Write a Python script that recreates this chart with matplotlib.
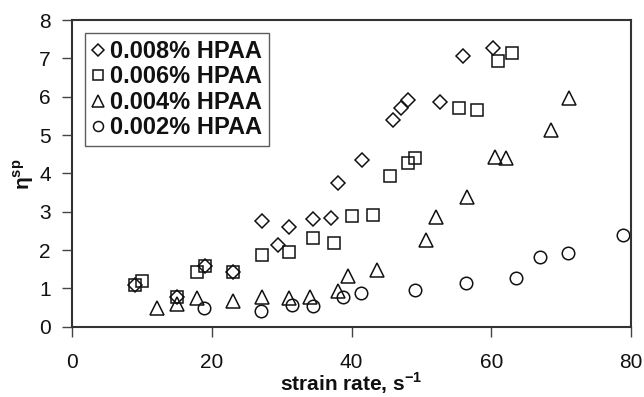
import matplotlib
matplotlib.use("Agg")
import matplotlib.pyplot as plt

plt.rcParams['font.family'] = ['Liberation Sans', 'DejaVu Sans']
plt.rcParams['mathtext.fontset'] = 'custom'
plt.rcParams['mathtext.rm'] = 'Liberation Sans'
plt.rcParams['mathtext.bf'] = 'Liberation Sans:bold'

# 0.008% HPAA
x008 = [9.0, 15.0, 19.0, 23.0, 27.1, 29.5, 31.1, 34.5, 37.0, 38.1, 41.5, 45.9, 47.0, 48.1, 52.6, 56.0, 60.2]
y008 = [1.09, 0.78, 1.58, 1.42, 2.76, 2.12, 2.61, 2.80, 2.83, 3.74, 4.35, 5.38, 5.70, 5.92, 5.87, 7.05, 7.28]
# 0.006% HPAA
x006 = [9.0, 10.0, 15.0, 17.9, 19.0, 23.0, 27.1, 31.0, 34.4, 37.5, 40.0, 43.0, 45.5, 48.0, 49.0, 55.4, 57.9, 61.0, 63.0]
y006 = [1.09, 1.19, 0.78, 1.42, 1.58, 1.42, 1.87, 1.94, 2.31, 2.18, 2.89, 2.92, 3.93, 4.27, 4.40, 5.70, 5.66, 6.94, 7.14]
# 0.004% HPAA
x004 = [12.1, 15.0, 17.9, 23.0, 27.1, 31.0, 34.1, 38.0, 39.5, 43.6, 50.7, 52.1, 56.5, 60.5, 62.1, 68.6, 71.1]
y004 = [0.50, 0.58, 0.74, 0.67, 0.77, 0.74, 0.77, 0.93, 1.31, 1.48, 2.26, 2.87, 3.39, 4.42, 4.40, 5.14, 5.96]
# 0.002% HPAA
x002 = [18.9, 27.0, 31.5, 34.4, 38.8, 41.4, 49.0, 56.4, 63.5, 67.0, 71.0, 78.9]
y002 = [0.50, 0.41, 0.57, 0.54, 0.77, 0.87, 0.96, 1.13, 1.26, 1.81, 1.92, 2.39]

labels = ['0.008% HPAA', '0.006% HPAA', '0.004% HPAA', '0.002% HPAA']
xticks = [0, 20, 40, 60, 80]
yticks = [0, 1, 2, 3, 4, 5, 6, 7, 8]

W, H = 644, 397
fig = plt.figure(figsize=(W / 100, H / 100), dpi=100)
ax = fig.add_axes([72.3 / W, 1 - 326.7 / H, (631 - 72.3) / W, (326.7 - 20) / H])

kw = dict(linestyle='none', markerfacecolor='none', markeredgecolor='#111111', markeredgewidth=1.1)
ax.plot(x008, y008, marker='D', markersize=7.5, label=labels[0], **kw)
ax.plot(x006, y006, marker='s', markersize=9, label=labels[1], **kw)
ax.plot(x004, y004, marker='^', markersize=10, label=labels[2], **kw)
ax.plot(x002, y002, marker='o', markersize=9, label=labels[3], **kw)

ax.set_xlim(0, 80)
ax.set_ylim(0, 8)
ax.set_xticks(xticks)
ax.set_yticks(yticks)
ax.set_xticklabels([str(v) for v in xticks], fontsize=15, color='#111111')
ax.set_yticklabels([str(v) for v in yticks], fontsize=15, color='#111111')
ax.tick_params(direction='out', length=7, width=1, colors='#444444')
ax.tick_params(axis='x', pad=12)
ax.tick_params(axis='y', pad=8.5)
for lab in ax.get_xticklabels() + ax.get_yticklabels():
    lab.set_color('#111111')
for s in ax.spines.values():
    s.set_linewidth(1.5)
    s.set_color('#333333')

fig.text(351.6 / W, 6 / H, 'strain rate, s$^{\\mathbf{-1}}$', fontsize=15, fontweight='bold',
         ha='center', va='baseline', color='#111111')
fig.text(24 / W, 1 - 174 / H, 'η$^{\\mathbf{sp}}$', fontsize=15, fontweight='bold',
         ha='center', va='center', rotation=90, color='#111111')

leg = ax.legend(loc='upper left', bbox_to_anchor=((85 - 72.3) / 558.7, (326.7 - 33) / 306.7), frameon=True,
                fancybox=False, prop={'weight': 'bold', 'size': 17}, handlelength=0.5, handletextpad=0.25,
                labelspacing=0.1, borderpad=0.3, markerscale=0.8, borderaxespad=0)
leg.get_frame().set_edgecolor('#333333')
leg.get_frame().set_linewidth(1.0)
for t in leg.get_texts():
    t.set_color('#111111')

fig.savefig('out.png', dpi=100)
